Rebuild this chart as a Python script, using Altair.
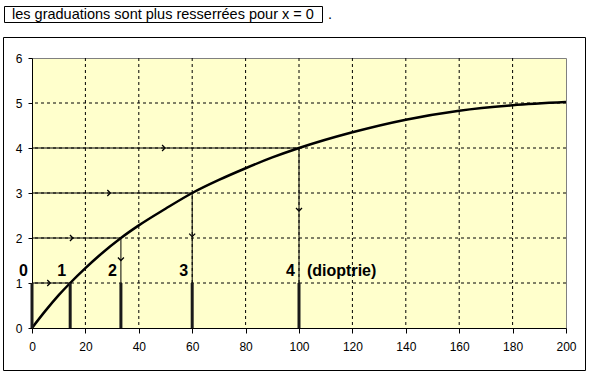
import altair as alt
import pandas as pd

# ---- data ----
curve_x = [0, 5, 10, 14.3, 20, 25, 33.3, 40, 50, 60, 70, 80, 90, 100, 120, 140, 160, 180, 200]
curve_y = [0, 0.38, 0.73, 1.0, 1.33, 1.6, 2.0, 2.28, 2.65, 3.0, 3.29, 3.55, 3.79, 4.0, 4.35, 4.63, 4.83, 4.95, 5.02]

dioptrie = [1, 2, 3, 4]
dioptrie_x = [14.3, 33.3, 60, 100]
h_arrow_x = [6.5, 15, 29, 49.5]          # position of arrowheads on horizontal lines
v_arrow_x = [33.3, 60, 100]
v_arrow_top = [2, 3, 4]
v_arrow_y = [1.52, 2.05, 2.62]           # position of arrowheads on vertical lines

bar_x = [0, 14.3, 33.3, 60, 100]
bar_labels = ["0", "1", "2", "3", "4"]
label_y = 1.27

x_ticks = [0, 20, 40, 60, 80, 100, 120, 140, 160, 180, 200]
y_ticks = [0, 1, 2, 3, 4, 5, 6]
grid_x = [20, 40, 60, 80, 100, 120, 140, 160, 180]
grid_y = [1, 2, 3, 4, 5]

title_text = "les graduations sont plus resserrées pour x = 0"
unit_text = "(dioptrie)"

FONT = "Liberation Sans"

xs = alt.Scale(domain=[0, 200], nice=False, zero=True)
ys = alt.Scale(domain=[0, 6], nice=False, zero=True)

df_curve = pd.DataFrame({"x": curve_x, "y": curve_y})
df_h = pd.DataFrame({"x0": [0] * 4, "x": dioptrie_x, "y": dioptrie, "ax": h_arrow_x})
df_v = pd.DataFrame({"x": v_arrow_x, "y": v_arrow_top, "y1": [1] * 3, "ay": v_arrow_y})
df_bar = pd.DataFrame({"x": bar_x, "y0": [0] * 5, "y1": [1] * 5, "lab": bar_labels, "ly": [label_y] * 5})
df_gx = pd.DataFrame({"x": grid_x})
df_gy = pd.DataFrame({"y": grid_y})

X = lambda f: alt.X(f, type="quantitative", scale=xs,
                    axis=alt.Axis(values=x_ticks, title=None, grid=False, tickSize=5,
                                  labelPadding=8, domainColor="black", tickColor="black",
                                  labelColor="black", labelFont=FONT, labelFontSize=12,
                                  labelFlush=False))
Y = lambda f: alt.Y(f, type="quantitative", scale=ys,
                    axis=alt.Axis(values=y_ticks, title=None, grid=False, tickSize=4,
                                  labelPadding=6, domainColor="black", tickColor="black",
                                  labelColor="black", labelFont=FONT, labelFontSize=12,
                                  labelFlush=False))

grid_v = alt.Chart(df_gx).mark_rule(color="black", strokeWidth=1, strokeDash=[3, 3]).encode(
    x=X("x"))
grid_h = alt.Chart(df_gy).mark_rule(color="black", strokeWidth=1, strokeDash=[3, 3]).encode(
    y=Y("y"))

h_lines = alt.Chart(df_h).mark_rule(color="black", strokeWidth=1).encode(
    x=X("x0"), x2="x", y=Y("y"))
v_lines = alt.Chart(df_v).mark_rule(color="black", strokeWidth=1).encode(
    x=X("x"), y=Y("y"), y2="y1")

h_heads = alt.Chart(df_h).mark_point(
    shape="M-0.7,-1L0.3,0L-0.7,1", filled=False, color="black", strokeWidth=1.3, size=36,
    opacity=1).encode(x=X("ax"), y=Y("y"))
v_heads = alt.Chart(df_v).mark_point(
    shape="M-1,-0.7L0,0.3L1,-0.7", filled=False, color="black", strokeWidth=1.3, size=36,
    opacity=1).encode(x=X("x"), y=Y("ay"))

curve = alt.Chart(df_curve).mark_line(color="black", strokeWidth=2.5, interpolate="monotone").encode(
    x=X("x"), y=Y("y"))

bars = alt.Chart(df_bar).mark_rule(color="#1a1a1a", strokeWidth=3).encode(
    x=X("x"), y=Y("y0"), y2="y1")

labels = alt.Chart(df_bar).mark_text(
    font=FONT, fontSize=16, fontWeight="bold", color="black", align="right",
    baseline="middle", dx=-4).encode(x=X("x"), y=Y("ly"), text="lab")

unit = alt.Chart(pd.DataFrame({"x": [dioptrie_x[-1]], "y": [label_y], "t": [unit_text]})).mark_text(
    font=FONT, fontSize=16, fontWeight="bold", color="black", align="left",
    baseline="middle", dx=8).encode(x=X("x"), y=Y("y"), text="t")

one = alt.Data(values=[{}])
outer = alt.Chart(one).mark_rect(fill=None, stroke="black", strokeWidth=1).encode(
    x=alt.value(-28.5), x2=alt.value(553.5), y=alt.value(-20.5), y2=alt.value(312.5))
tbox = alt.Chart(one).mark_rect(fill="white", stroke="black", strokeWidth=1).encode(
    x=alt.value(-27.5), x2=alt.value(290.5), y=alt.value(-51.5), y2=alt.value(-35.5))
ttext = alt.Chart(one).mark_text(
    text=title_text, font=FONT, fontSize=14.5, color="black", align="left",
    baseline="alphabetic").encode(x=alt.value(-20), y=alt.value(-39))
tdot = alt.Chart(one).mark_text(
    text=".", font=FONT, fontSize=14.5, color="black", align="left",
    baseline="alphabetic").encode(x=alt.value(296), y=alt.value(-39))

chart = alt.layer(
    outer, tbox, ttext, tdot,
    grid_v, grid_h, h_lines, v_lines, h_heads, v_heads, curve, bars, labels, unit
).properties(
    width=534, height=270,
    autosize=alt.AutoSizeParams(type="none"),
    padding={"left": 32, "top": 58, "right": 26, "bottom": 50},
    background="white",
).configure_view(
    fill="#FFFFCC", stroke="#808080", strokeWidth=1
)

chart.save("out.html", embed_options={"renderer": "svg", "actions": False})
